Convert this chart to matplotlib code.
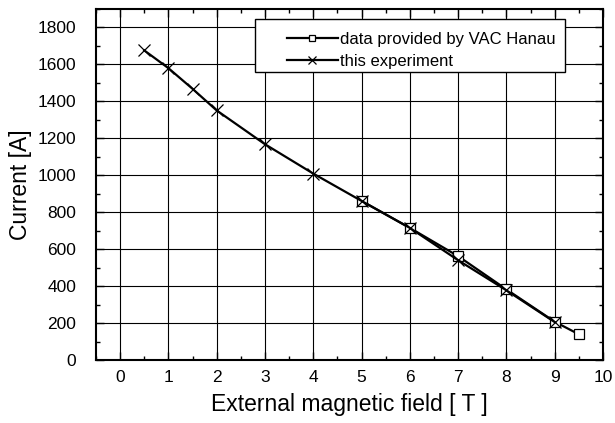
import matplotlib
matplotlib.use("Agg")
import matplotlib.pyplot as plt
from matplotlib.ticker import MultipleLocator
from matplotlib.patches import Rectangle

plt.rcParams['font.family'] = ['Liberation Sans', 'DejaVu Sans']

vac_field = [5, 6, 7, 8, 9, 9.5]
vac_current = [861, 715, 562, 382, 207, 139]
exp_field = [0.5, 1, 1.5, 2, 3, 4, 5, 6, 7, 8, 9]
exp_current = [1676, 1580, 1468, 1351, 1168, 1009, 861, 715, 540, 377, 205]

xticks = list(range(0, 11))
yticks = list(range(0, 1801, 200))

fig = plt.figure(figsize=(6.15, 4.23), dpi=100)
ax = fig.add_axes([0.156, 0.149, 0.8245, 0.8297])

ax.plot(vac_field, vac_current, color='black', lw=1.6, marker='s', ms=6.5,
        mfc='white', mec='black', mew=0.9, label='data provided by VAC Hanau', zorder=3)
ax.plot(exp_field, exp_current, color='black', lw=1.6, marker='x', ms=8,
        mec='black', mew=0.9, label='this experiment', zorder=4)

ax.set_xlim(-0.5, 10)
ax.set_ylim(0, 1900)
ax.set_xticks(xticks)
ax.set_yticks(yticks)
ax.xaxis.set_minor_locator(MultipleLocator(0.5))
ax.yaxis.set_minor_locator(MultipleLocator(100))
ax.tick_params(which='both', direction='in', top=True, right=True, labelsize=12.5)
ax.tick_params(which='major', length=6, width=1)
ax.tick_params(which='minor', length=3, width=1)
ax.tick_params(axis='x', pad=7)
ax.tick_params(axis='y', pad=14)
ax.grid(True, which='major', color='black', lw=0.8)
for s in ax.spines.values():
    s.set_linewidth(1.5)

ax.set_xlabel('External magnetic field [ T ]', fontsize=16.5, labelpad=6)
ax.set_ylabel('Current [A]', fontsize=16.5, labelpad=4)

frame = Rectangle((0.3136, 0.8205), 0.925 - 0.3136, 0.9715 - 0.8205,
                  transform=ax.transAxes, facecolor='white', edgecolor='black',
                  lw=1.0, zorder=5)
ax.add_patch(frame)

leg = ax.legend(loc='center left', bbox_to_anchor=(0.3767, 0.8818), fontsize=12,
                frameon=False, handlelength=3.05, handletextpad=0.12,
                borderpad=0, labelspacing=0.4, borderaxespad=0, markerscale=0.75)
leg.set_zorder(6)

fig.savefig('out.png', dpi=100)
